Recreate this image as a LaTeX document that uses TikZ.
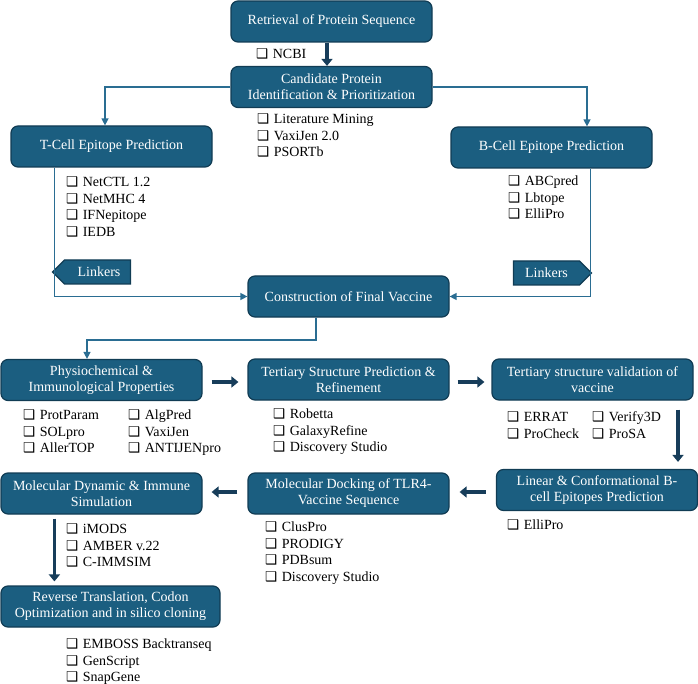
\documentclass[tikz,border=0pt]{standalone}
\usepackage{fontspec}
\setmainfont{Liberation Serif}
\newfontfamily\boxsym{DejaVu Sans}
\usetikzlibrary{arrows.meta,shapes.symbols}
\definecolor{boxblue}{HTML}{1B5E80}
\definecolor{boxedge}{HTML}{113C54}
\definecolor{linkblue}{HTML}{2A6D92}
\definecolor{navyarrow}{HTML}{173D5A}
\newcommand{\cbx}{{\boxsym\fontsize{13.5}{13.5}\selectfont ❑}\hspace{4.5pt}}
\tikzset{
  stepbox/.style={draw=boxedge, fill=boxblue, line width=1.2pt, rounded corners=7pt,
    text=white, align=center, minimum width=201pt, minimum height=41pt, inner sep=2pt,
    font=\fontsize{14}{16}\selectfont},
  toollist/.style={anchor=north west, align=left, inner sep=0pt,
    font=\fontsize{14}{16.6}\selectfont},
  linkerbox/.style={signal, draw=boxedge, fill=boxblue, line width=1.2pt, text=white,
    minimum width=78pt, minimum height=24pt, inner sep=1pt, font=\fontsize{14}{16}\selectfont},
  link/.style={draw=linkblue, line width=1.3pt, -{Triangle[length=7pt,width=7pt]}},
  bigarrow/.style={draw=navyarrow, line width=3.8pt, -{Triangle[length=7pt,width=11pt]}}
}
\begin{document}
\begin{tikzpicture}[x=1pt,y=-1pt]
	\useasboundingbox (0,0) rectangle (698,684);
	% main steps
	\node[stepbox] (ret) at (331.5,21.5){Retrieval of Protein Sequence};
	\node[stepbox] (cand) at (331.5,87){Candidate Protein\\Identification \& Prioritization};
	\node[stepbox] (tcell) at (111.5,146.5){T-Cell Epitope Prediction};
	\node[stepbox] (bcell) at (551.5,147.5){B-Cell Epitope Prediction};
	\node[stepbox] (constr) at (348.5,296.5){Construction of Final Vaccine};
	\node[stepbox] (physio) at (101.5,380){Physiochemical \&\\Immunological Properties};
	\node[stepbox] (tert) at (348.5,379.5){Tertiary Structure Prediction \&\\Refinement};
	\node[stepbox] (valid) at (592.5,379.5){Tertiary structure validation of\\vaccine};
	\node[stepbox] (linear) at (597,490){Linear \& Conformational B-\\cell Epitopes Prediction};
	\node[stepbox] (dock) at (348.5,493.5){Molecular Docking of TLR4-\\Vaccine Sequence};
	\node[stepbox] (dyn) at (101.5,493.5){Molecular Dynamic \& Immune\\Simulation};
	\node[stepbox, minimum width=219pt] (rev) at (110.5,606.5){Reverse Translation, Codon\\Optimization and in silico cloning};

	\node[linkerbox, signal to=west] (linkl) at (97.5,272){\hspace{3pt}Linkers};
	\node[linkerbox, signal to=east] (linkr) at (546.5,273){Linkers\hspace{3pt}};

	% tools
	\node[toollist] (ncbi) at (256,48.5){\cbx NCBI};
	\node[toollist] (candtools) at (257,113.5){\cbx Literature Mining\\\cbx VaxiJen 2.0\\\cbx PSORTb};
	\node[toollist] (ttools) at (66,176.5){\cbx NetCTL 1.2\\\cbx NetMHC 4\\\cbx IFNepitope\\\cbx IEDB};
	\node[toollist] (btools) at (508,175.5){\cbx ABCpred\\\cbx Lbtope\\\cbx ElliPro};
	\node[toollist] (ptoolsa) at (23,409.5){\cbx ProtParam\\\cbx SOLpro\\\cbx AllerTOP};
	\node[toollist] (ptoolsb) at (128,409.5){\cbx AlgPred\\\cbx VaxiJen\\\cbx ANTIJENpro};
	\node[toollist] (ttools2) at (273,408.5){\cbx Robetta\\\cbx GalaxyRefine\\\cbx Discovery Studio};
	\node[toollist] (vtoolsa) at (507,411.5){\cbx ERRAT\\\cbx ProCheck};
	\node[toollist] (vtoolsb) at (592,411.5){\cbx Verify3D\\\cbx ProSA};
	\node[toollist] (ltools) at (507,519.5){\cbx ElliPro};
	\node[toollist] (dtools) at (265,521.5){\cbx ClusPro\\\cbx PRODIGY\\\cbx PDBsum\\\cbx Discovery Studio};
	\node[toollist] (mtools) at (66,523.5){\cbx iMODS\\\cbx AMBER v.22\\\cbx C-IMMSIM};
	\node[toollist] (rtools) at (66,638.5){\cbx EMBOSS Backtranseq\\\cbx GenScript\\\cbx SnapGene};

	% connectors
	\draw[link] (cand.west) -| ([xshift=-6.5pt]tcell.north);
	\draw[link] (cand.east) -| ([xshift=35.5pt]bcell.north);
	\draw[link] ([xshift=44pt]tcell.south west) |- (constr.west);
	\draw[link] ([xshift=140pt]bcell.south west) |- (constr.east);
	\coordinate (bend) at (316,340);
	\draw[link] ([xshift=-32.5pt]constr.south) -- (bend) -| ([xshift=-14.5pt]physio.north);

	\draw[bigarrow] ([xshift=-4.5pt]ret.south) -- ([xshift=-4.5pt]cand.north);
	\draw[bigarrow] ([xshift=9pt,yshift=-2pt]physio.east) -- ([xshift=-9pt,yshift=-2.5pt]tert.west);
	\draw[bigarrow] ([xshift=8pt,yshift=-2.5pt]tert.east) -- ([xshift=-7pt,yshift=-2.5pt]valid.west);
	\draw[bigarrow] ([xshift=85.5pt,yshift=-9pt]valid.south) -- ([xshift=81pt,yshift=7pt]linear.north);
	\draw[bigarrow] ([xshift=-10pt,yshift=-2pt]linear.west) -- ([xshift=10pt,yshift=1.5pt]dock.east);
	\draw[bigarrow] ([xshift=-10pt,yshift=1.5pt]dock.west) -- ([xshift=9pt,yshift=1.5pt]dyn.east);
	\draw[bigarrow] ([xshift=54pt,yshift=-4pt]dyn.south west) -- ([xshift=54pt,yshift=4pt]rev.north west);
\end{tikzpicture}
\end{document}
